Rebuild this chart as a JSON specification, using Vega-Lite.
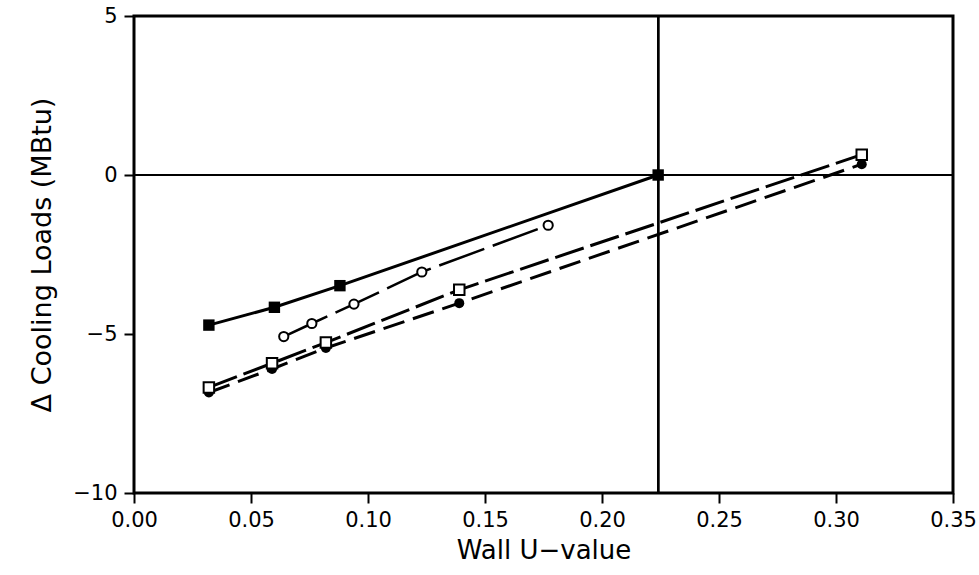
{
  "$schema": "https://vega.github.io/schema/vega-lite/v6.json",
  "width": 819,
  "height": 477,
  "autosize": "none",
  "padding": {"left": 134, "top": 16, "right": 26, "bottom": 82},
  "background": "white",
  "config": {
    "view": {"stroke": "black", "strokeWidth": 3},
    "font": "DejaVu Sans"
  },
  "data": {
    "values": [
      {"series": "fsq", "u": 0.032, "load": -4.72},
      {"series": "fsq", "u": 0.060, "load": -4.16},
      {"series": "fsq", "u": 0.088, "load": -3.48},
      {"series": "fsq", "u": 0.224, "load": 0.0},
      {"series": "ocirc", "u": 0.064, "load": -5.08},
      {"series": "ocirc", "u": 0.076, "load": -4.67},
      {"series": "ocirc", "u": 0.094, "load": -4.06},
      {"series": "ocirc", "u": 0.123, "load": -3.05},
      {"series": "ocirc", "u": 0.177, "load": -1.58},
      {"series": "osq", "u": 0.032, "load": -6.68},
      {"series": "osq", "u": 0.059, "load": -5.92},
      {"series": "osq", "u": 0.082, "load": -5.27},
      {"series": "osq", "u": 0.139, "load": -3.61},
      {"series": "osq", "u": 0.311, "load": 0.64},
      {"series": "fcirc", "u": 0.032, "load": -6.84},
      {"series": "fcirc", "u": 0.059, "load": -6.10},
      {"series": "fcirc", "u": 0.082, "load": -5.44},
      {"series": "fcirc", "u": 0.139, "load": -4.03},
      {"series": "fcirc", "u": 0.311, "load": 0.34}
    ]
  },
  "encoding": {
    "x": {
      "field": "u", "type": "quantitative",
      "scale": {"domain": [0, 0.35], "nice": false, "zero": false},
      "axis": {
        "values": [0, 0.05, 0.1, 0.15, 0.2, 0.25, 0.3, 0.35], "format": ".2f",
        "title": "Wall U\u2212value", "titlePadding": 7, "labelFlush": false,
        "domain": false, "grid": false, "tickColor": "black", "tickWidth": 2, "tickSize": 10,
        "labelColor": "black", "labelFont": "DejaVu Sans", "labelFontSize": 21, "labelPadding": 6,
        "titleColor": "black", "titleFont": "DejaVu Sans", "titleFontSize": 26, "titleFontWeight": "normal"
      }
    },
    "y": {
      "field": "load", "type": "quantitative",
      "scale": {"domain": [-10, 5], "nice": false, "zero": false},
      "axis": {
        "values": [-10, -5, 0, 5], "title": "\u0394 Cooling Loads (MBtu)", "titlePadding": 16, "labelFlush": false,
        "domain": false, "grid": false, "tickColor": "black", "tickWidth": 2, "tickSize": 10,
        "labelColor": "black", "labelFont": "DejaVu Sans", "labelFontSize": 21, "labelPadding": 7,
        "titleColor": "black", "titleFont": "DejaVu Sans", "titleFontSize": 27, "titleFontWeight": "normal"
      }
    }
  },
  "layer": [
    {"mark": {"type": "rule", "color": "black", "strokeWidth": 2}, "encoding": {"y": {"datum": 0}, "x": null}},
    {"mark": {"type": "rule", "color": "black", "strokeWidth": 1.8}, "encoding": {"x": {"datum": 0.224}, "y": null}},
    {"transform": [{"filter": "datum.series === 'fsq'"}], "mark": {"type": "line", "color": "black", "strokeWidth": 3}},
    {"transform": [{"filter": "datum.series === 'ocirc'"}], "mark": {"type": "line", "color": "black", "strokeWidth": 2.5, "strokeDash": [48, 9]}},
    {"transform": [{"filter": "datum.series === 'osq'"}], "mark": {"type": "line", "color": "black", "strokeWidth": 3, "strokeDash": [30, 7]}},
    {"transform": [{"filter": "datum.series === 'fcirc'"}], "mark": {"type": "line", "color": "black", "strokeWidth": 3, "strokeDash": [22, 9]}},
    {"transform": [{"filter": "datum.series === 'fsq'"}], "mark": {"type": "point", "shape": "square", "filled": true, "color": "black", "size": 130, "opacity": 1}},
    {"transform": [{"filter": "datum.series === 'fcirc'"}], "mark": {"type": "point", "shape": "circle", "filled": true, "color": "black", "size": 100, "opacity": 1}},
    {"transform": [{"filter": "datum.series === 'ocirc'"}], "mark": {"type": "point", "shape": "circle", "filled": true, "fill": "white", "stroke": "black", "strokeWidth": 2, "size": 85, "opacity": 1}},
    {"transform": [{"filter": "datum.series === 'osq'"}], "mark": {"type": "point", "shape": "square", "filled": true, "fill": "white", "stroke": "black", "strokeWidth": 2, "size": 110, "opacity": 1}}
  ]
}
